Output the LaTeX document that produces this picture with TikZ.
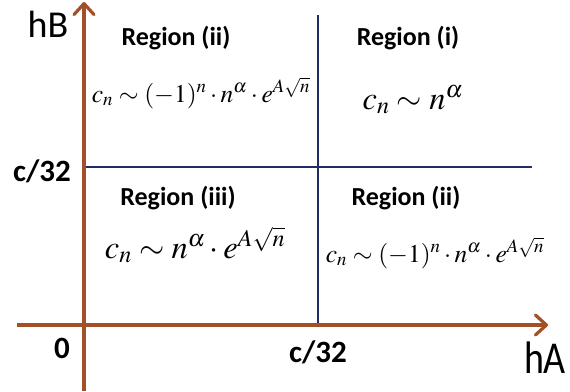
\documentclass[tikz,border=0pt]{standalone}
\usepackage{mathptmx}
\usepackage[no-math]{fontspec}
\setmainfont{Carlito}
\usetikzlibrary{arrows.meta}
\definecolor{axisbrown}{RGB}{163,80,40}
\definecolor{gridblue}{RGB}{32,44,102}
\tikzset{
  axisline/.style={draw=axisbrown, line width=3.2pt, -{Straight Barb[length=11pt,width=20pt,line width=3.2pt,round]}},
  gridline/.style={draw=gridblue, line width=1.8pt},
  regionlabel/.style={anchor=base, inner sep=0pt, font=\fontsize{26}{30}\selectfont\bfseries},
  ticklabel/.style={anchor=base, inner sep=0pt, font=\fontsize{31}{36}\selectfont\bfseries},
  axislabel/.style={anchor=base, inner sep=0pt, font=\fontsize{38}{44}\selectfont},
  smallformula/.style={anchor=base, inner sep=0pt, font=\fontsize{25.5}{30}\selectfont},
  bigformula/.style={anchor=base, inner sep=0pt, font=\fontsize{32.5}{38}\selectfont},
}
\begin{document}
\begin{tikzpicture}[x=1pt,y=-1pt]
\useasboundingbox (0,0) rectangle (570,391);
% coordinates
\coordinate (ybot) at (84,391);
\coordinate (ytop) at (84,2);
\coordinate (xleft) at (17,325);
\coordinate (xright) at (548,325);
\coordinate (vtop) at (318,15);
\coordinate (vbot) at (318,325);
\coordinate (hleft) at (84,167);
\coordinate (hright) at (532,167);
% grid lines
\draw[gridline] (vtop) -- (vbot);
\draw[gridline] (hleft) -- (hright);
% axes
\draw[axisline] (ybot) -- (ytop);
\draw[axisline] (xleft) -- (xright);
% axis labels
\node[axislabel] (hB) at (48,37) {hB};
\node[axislabel] (hA) at (545,373) {\scalebox{1}[1.2]{hA}};
\node[ticklabel] (zero) at (62,358) {0};
\node[ticklabel] (cx) at (318,362) {c/32};
\node[ticklabel] (cy) at (42,181) {c/32};
% region labels
\node[regionlabel] (r2a) at (176,45) {Region (ii)};
\node[regionlabel] (r1) at (408,45) {Region (i)};
\node[regionlabel] (r3) at (178,205) {Region (iii)};
\node[regionlabel] (r2b) at (406,205) {Region (ii)};
% formulas
\node[smallformula] (f2a) at (201,102) {$c_n \sim (-1)^n\cdot n^{\alpha}\cdot e^{A\sqrt{n}}$};
\node[bigformula] (f1) at (413,109) {$c_n \sim n^{\alpha}$};
\node[bigformula] (f3) at (195,258) {$c_n \sim n^{\alpha}\cdot e^{A\sqrt{n}}$};
\node[smallformula] (f2b) at (435,262) {$c_n \sim (-1)^n\cdot n^{\alpha}\cdot e^{A\sqrt{n}}$};
\end{tikzpicture}
\end{document}
